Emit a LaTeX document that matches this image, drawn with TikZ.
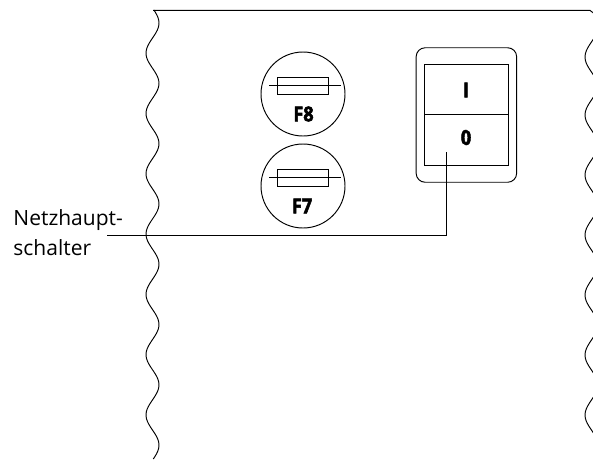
\documentclass[tikz,border=0pt]{standalone}
\usepackage{fontspec}
\setmainfont{Open Sans}
\newfontfamily\tagfont[BoldFeatures={FakeBold=2.6,FakeStretch=0.88}]{Open Sans}
\tikzset{
  x=1pt,y=-1pt,
  ring/.style={circle,draw,minimum size=84pt,inner sep=0pt},
  fusebody/.style={rectangle,draw,minimum width=50.5pt,minimum height=17pt,inner sep=0pt},
  part/.style={rectangle,draw,minimum width=84.5pt,minimum height=50.5pt,inner sep=0pt},
  tag/.style={font=\tagfont\fontsize{20.5}{20.5}\selectfont\bfseries,inner sep=0pt},
  callout/.style={font=\fontsize{21}{30}\selectfont,inner sep=0pt,anchor=base west},
  arcpiece/.style={smooth}
}
\begin{document}
\begin{tikzpicture}[line width=0.95pt,color=black]
\useasboundingbox (0,0) rectangle (593,459);
% wavy break lines and top edge
\begin{scope}
\clip (0,0) rectangle (593,459);
\draw[arcpiece] plot[domain=10:459,samples=180,variable=\t] ({152.5+6.5*cos((\t-23)*5.97)},{\t});
\draw[arcpiece] plot[domain=39:75,samples=16,variable=\t] ({591.5-6.5*cos((\t-57)*5.97)},{\t});
\draw[arcpiece] plot[domain=97:133,samples=16,variable=\t] ({591.5-6.5*cos((\t-115)*5.97)},{\t});
\draw[arcpiece] plot[domain=157:193,samples=16,variable=\t] ({591.5-6.5*cos((\t-175)*5.97)},{\t});
\draw[arcpiece] plot[domain=217:253,samples=16,variable=\t] ({591.5-6.5*cos((\t-235)*5.97)},{\t});
\draw[arcpiece] plot[domain=277:313,samples=16,variable=\t] ({591.5-6.5*cos((\t-295)*5.97)},{\t});
\draw[arcpiece] plot[domain=337:373,samples=16,variable=\t] ({591.5-6.5*cos((\t-355)*5.97)},{\t});
\draw[arcpiece] plot[domain=397:433,samples=16,variable=\t] ({591.5-6.5*cos((\t-415)*5.97)},{\t});
\coordinate (topL) at (153,10.4);
\coordinate (topM) at (590,10.4);
\coordinate (topR) at (594,13.5);
\draw (topL) -- (topM) -- (topR);
\end{scope}
% fuses
\node[ring] (f8) at (303,94) {};
\node[fusebody] (f8b) at (303,85.7) {};
\coordinate (f8l) at (269,85.7);
\coordinate (f8r) at (340.7,85.7);
\draw (f8l) -- (f8r);
\node[tag] (f8t) at (303.5,114) {F8};
\node[ring] (f7) at (303,186) {};
\node[fusebody] (f7b) at (303,177.8) {};
\coordinate (f7l) at (269,177.8);
\coordinate (f7r) at (340.7,177.8);
\draw (f7l) -- (f7r);
\node[tag] (f7t) at (302,206) {F7};
% switch
\node[rectangle,draw,rounded corners=9pt,minimum width=100.5pt,minimum height=134.5pt,inner sep=0pt] (sw) at (466.4,115) {};
\node[part] (on) at (466.5,89.7) {};
\node[part] (off) at (466.5,140.2) {};
\node[tag] (ont) at (466,90) {I};
\node[tag] (offt) at (466,137.5) {0};
% leader
\coordinate (ld0) at (446,152);
\coordinate (ld1) at (107,235);
\draw (ld0) |- (ld1);
\node[callout] (l1) at (13,225) {Netzhaupt-};
\node[callout] (l2) at (13,255) {schalter};
\end{tikzpicture}
\end{document}
